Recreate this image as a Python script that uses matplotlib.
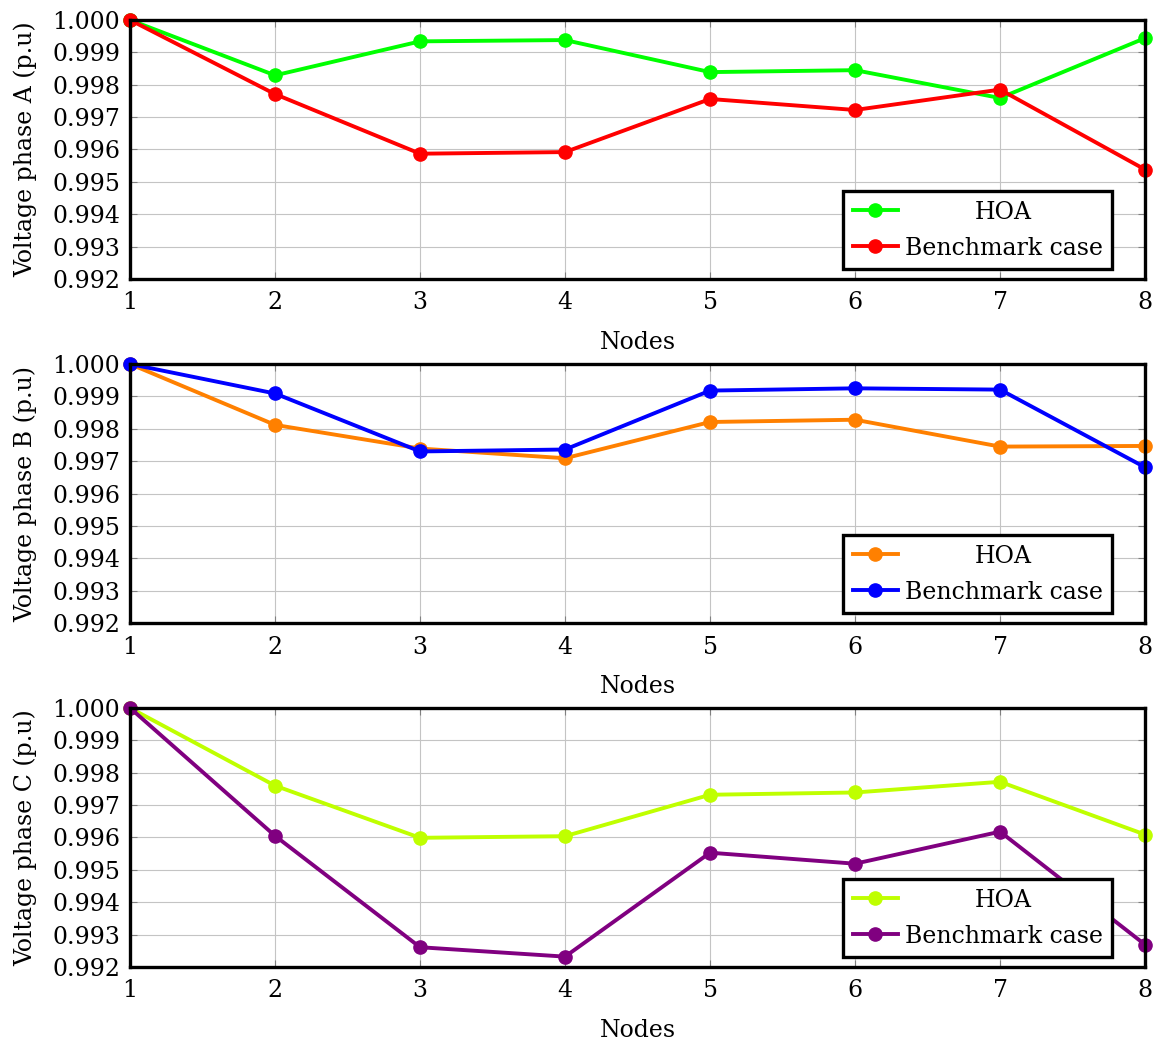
import matplotlib
matplotlib.use("Agg")
import matplotlib.pyplot as plt

plt.rcParams['font.family'] = ['DejaVu Serif']

nodes = [1, 2, 3, 4, 5, 6, 7, 8]

hoaA = [1.0, 0.99829, 0.99934, 0.99938, 0.99839, 0.99845, 0.99759, 0.99944]
benchA = [1.0, 0.99771, 0.99587, 0.99592, 0.99756, 0.99722, 0.99785, 0.99538]

hoaB = [1.0, 0.99812, 0.99739, 0.99709, 0.99821, 0.99828, 0.99745, 0.99747]
benchB = [1.0, 0.99909, 0.99730, 0.99736, 0.99918, 0.99925, 0.99921, 0.99681]

hoaC = [1.0, 0.99760, 0.99599, 0.99604, 0.99732, 0.99739, 0.99772, 0.99609]
benchC = [1.0, 0.99605, 0.99261, 0.99232, 0.99553, 0.99519, 0.99618, 0.99269]

yticks = [0.992, 0.993, 0.994, 0.995, 0.996, 0.997, 0.998, 0.999, 1.000]

panels = [
    ("Voltage phase A (p.u)", hoaA, benchA, "#00ff00", "#ff0000"),
    ("Voltage phase B (p.u)", hoaB, benchB, "#ff8000", "#0000ff"),
    ("Voltage phase C (p.u)", hoaC, benchC, "#bfff00", "#800080"),
]
bottoms = [0.732, 0.4015, 0.0711]

fig = plt.figure(figsize=(11.55, 10.41), dpi=100)
renderer = fig.canvas.get_renderer()

for (ylabel, hoa, bench, c1, c2), b in zip(panels, bottoms):
    ax = fig.add_axes([0.1126, b, 0.8788, 0.2488])
    ax.plot(nodes, hoa, color=c1, linewidth=2.8, marker="o", markersize=9.5,
            label="HOA", clip_on=False, zorder=3)
    ax.plot(nodes, bench, color=c2, linewidth=2.8, marker="o", markersize=9.5,
            label="Benchmark case", clip_on=False, zorder=4)
    ax.set_xlim(1, 8)
    ax.set_ylim(0.992, 1.000)
    ax.set_xticks(nodes)
    ax.set_yticks(yticks)
    ax.set_yticklabels([f"{v:.3f}" for v in yticks])
    ax.grid(True, color="#c4c4c4", linewidth=0.8)
    ax.set_axisbelow(True)
    ax.tick_params(direction="in", length=5, color="#808080", labelsize=17,
                   top=True, right=True)
    ax.tick_params(axis="x", pad=9)
    ax.tick_params(axis="y", pad=7)
    for s in ax.spines.values():
        s.set_linewidth(2.4)
        s.set_zorder(5)
    ax.set_xlabel("Nodes", fontsize=17, labelpad=12)
    ax.set_ylabel(ylabel, fontsize=17, labelpad=11)
    leg = ax.legend(loc="lower right", bbox_to_anchor=(0.9675, 0.0386),
                    borderaxespad=0, fontsize=17,
                    frameon=True, fancybox=False, edgecolor="black", framealpha=1,
                    handlelength=1.9, handletextpad=0.3, borderpad=0.4,
                    labelspacing=0.55)
    leg.get_frame().set_linewidth(2.4)
    leg.set_zorder(10)
    # centre the shorter label in the text column
    widths = [t.get_window_extent(renderer).width for t in leg.get_texts()]
    for t, w in zip(leg.get_texts(), widths):
        t.set_position(((max(widths) - w) / 2, 0))

fig.savefig("out.png", dpi=100)
